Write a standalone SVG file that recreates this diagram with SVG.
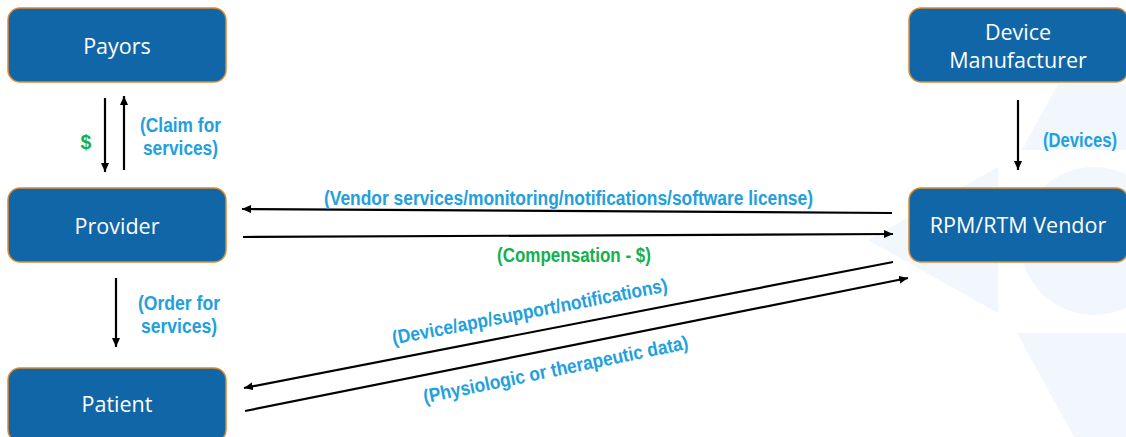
<svg xmlns="http://www.w3.org/2000/svg" width="1126" height="437" viewBox="0 0 1126 437">
  <style>
    .node rect { fill: #1166a8; stroke: #e08a2c; stroke-width: 1.5; }
    .node text { fill: #ffffff; font-family: "Open Sans", "Noto Sans", sans-serif; font-size: 21.5px; text-anchor: middle; }
    .wm { fill: #f1f7fc; }
    .conn line { stroke: #000; stroke-width: 2.2; marker-end: url(#ah); }
    .lbl { font-family: "Liberation Sans Narrow", "Liberation Sans", Arial, sans-serif; font-weight: bold; font-size: 19.5px; }
    .blue { fill: #22a0dd; }
    .green { fill: #12b14c; }
  </style>
  <defs>
    <marker id="ah" markerUnits="userSpaceOnUse" markerWidth="10" markerHeight="8" refX="9" refY="4" orient="auto">
      <path d="M0,0 L9,4 L0,8 z" fill="#000"/>
    </marker>
  </defs>

  <rect width="1126" height="437" fill="#ffffff"/>

  <!-- faint background watermark -->
  <g id="watermark">
    <polygon class="wm" points="1058,84 1126,84 1126,150 1022,150"/>
    <polygon class="wm" points="868,240 998,167 998,313"/>
    <circle class="wm" cx="1094" cy="241" r="74"/>
    <polygon class="wm" points="1017,333 1126,333 1126,437 1074,437"/>
  </g>

  <!-- connectors -->
  <g id="connectors" class="conn">
    <line x1="105" y1="98" x2="105" y2="172"/>
    <line x1="124" y1="170" x2="124" y2="96"/>
    <line x1="116" y1="278" x2="116" y2="347"/>
    <line x1="1018" y1="100" x2="1018" y2="170"/>
    <line x1="892" y1="213" x2="242" y2="209"/>
    <line x1="243" y1="237" x2="893" y2="234"/>
    <line x1="893" y1="262" x2="244" y2="388"/>
    <line x1="245" y1="411" x2="908" y2="278"/>
  </g>

  <!-- connector labels -->
  <g id="labels">
    <text class="lbl green" x="86" y="149" font-size="22" text-anchor="middle">$</text>
    <text class="lbl blue" x="140" y="132" font-size="20.5" textLength="81" lengthAdjust="spacingAndGlyphs">(Claim for</text>
    <text class="lbl blue" x="143" y="155" font-size="20.5" textLength="75" lengthAdjust="spacingAndGlyphs">services)</text>
    <text class="lbl blue" x="138" y="310" font-size="20.5" textLength="82" lengthAdjust="spacingAndGlyphs">(Order for</text>
    <text class="lbl blue" x="141" y="333" font-size="20.5" textLength="76" lengthAdjust="spacingAndGlyphs">services)</text>
    <text class="lbl blue" x="1117" y="147" text-anchor="end" font-size="19" textLength="74" lengthAdjust="spacingAndGlyphs">(Devices)</text>
    <text class="lbl blue" x="324" y="205" textLength="489" lengthAdjust="spacingAndGlyphs">(Vendor services/monitoring/notifications/software license)</text>
    <text class="lbl green" x="497" y="262" textLength="154" lengthAdjust="spacingAndGlyphs">(Compensation - $)</text>
    <text class="lbl blue" x="531" y="318" text-anchor="middle" textLength="280" lengthAdjust="spacingAndGlyphs" transform="rotate(-11 531 318)">(Device/app/support/notifications)</text>
    <text class="lbl blue" x="557" y="376" text-anchor="middle" textLength="270" lengthAdjust="spacingAndGlyphs" transform="rotate(-11.7 557 376)">(Physiologic or therapeutic data)</text>
  </g>

  <!-- nodes -->
  <g id="payors" class="node">
    <rect x="8" y="8" width="218" height="74" rx="12"/>
    <text x="117" y="54">Payors</text>
  </g>
  <g id="provider" class="node">
    <rect x="8" y="188" width="218" height="74" rx="12"/>
    <text x="117" y="234">Provider</text>
  </g>
  <g id="patient" class="node">
    <rect x="8" y="368" width="218" height="74" rx="12"/>
    <text x="117" y="412">Patient</text>
  </g>
  <g id="device-manufacturer" class="node">
    <rect x="909" y="8" width="219" height="74" rx="12"/>
    <text x="1018" y="40">Device</text>
    <text x="1018" y="68">Manufacturer</text>
  </g>
  <g id="rpm-rtm-vendor" class="node">
    <rect x="909" y="188" width="219" height="74" rx="12"/>
    <text x="1018" y="233">RPM/RTM Vendor</text>
  </g>
</svg>
